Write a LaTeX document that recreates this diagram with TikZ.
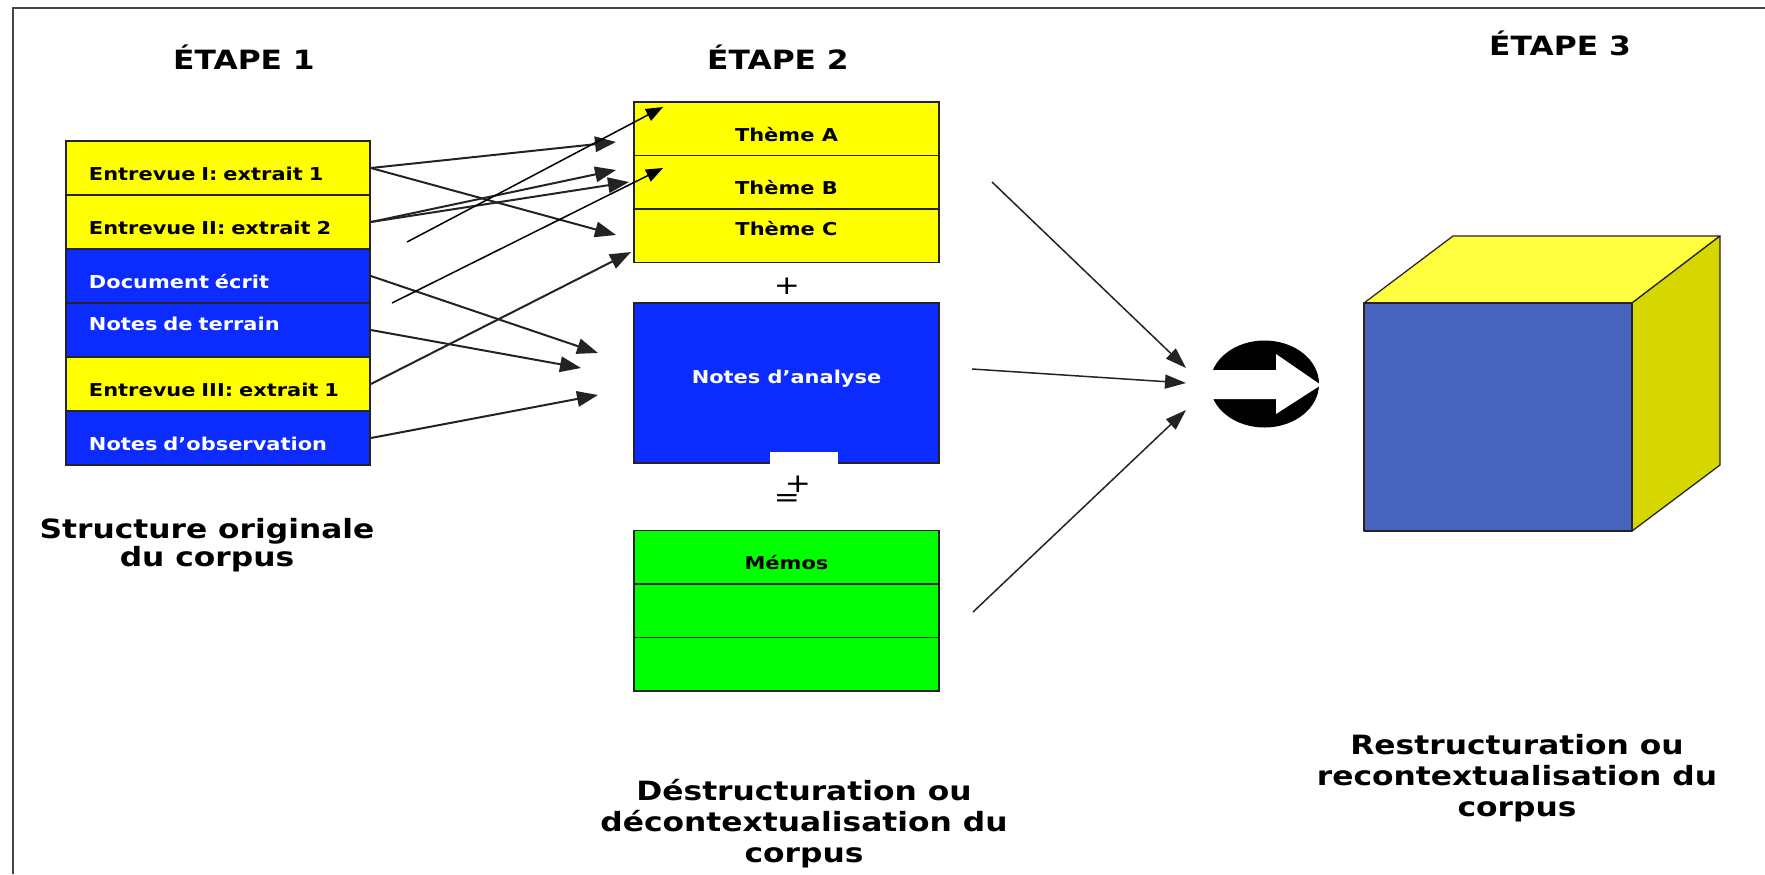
\documentclass[tikz,border=0pt]{standalone}
\usepackage{fontspec}
\setmainfont{DejaVu Sans}[FakeStretch=1.18]
\usepackage{tikz}
\usetikzlibrary{arrows.meta}
\usetikzlibrary{shapes.geometric}
\usepackage{xcolor}
\definecolor{ColYel}{RGB}{255,255,0}
\definecolor{ColBlu}{RGB}{12,43,255}
\definecolor{ColGre}{RGB}{0,255,0}
\definecolor{ColCubeF}{RGB}{72,99,190}
\definecolor{ColCubeT}{RGB}{255,255,64}
\definecolor{ColCubeR}{RGB}{214,214,0}
\definecolor{ColLine}{RGB}{35,35,35}
\definecolor{ColFrame}{RGB}{70,70,70}
\newcommand{\CellFont}{\fontsize{10.1pt}{12pt}\selectfont\bfseries}
\newcommand{\TitleFont}{\fontsize{15.1pt}{18pt}\selectfont\bfseries}
\tikzstyle{LeftCell}=[draw=ColLine,line width=0.35mm,minimum height=10.8mm,
text width=51.6mm,inner xsep=4.6mm,inner ysep=0pt,align=left,font=\CellFont]
\tikzstyle{MidCell}=[draw=ColLine,line width=0.35mm,minimum width=61mm,
minimum height=10.7mm,inner sep=0pt,font=\CellFont]
\tikzstyle{TextLow}=[text height=5mm,text depth=0pt]
\tikzstyle{TextMid}=[text height=0pt,text depth=0pt]
\tikzstyle{Title}=[font=\TitleFont,anchor=base,inner sep=0pt]
\tikzstyle{Sign}=[font=\fontsize{15pt}{15pt}\selectfont,inner sep=0pt]
\tikzstyle{LinkArrow}=[draw=ColLine,line width=0.4mm,-{Triangle[length=4.2mm,width=3.1mm]}]
\tikzstyle{FreeArrow}=[black,line width=0.3mm,-{Triangle[length=3.4mm,width=2.6mm]}]
\tikzstyle{JoinArrow}=[ColLine,line width=0.3mm,-{Triangle[length=4.2mm,width=2.8mm]}]
\tikzstyle{CubeFace}=[draw=ColLine,line width=0.25mm,line join=round]

\begin{document}
\begin{tikzpicture}[x=0.2mm,y=-0.2mm]
        \useasboundingbox (0,0) rectangle (1765,874);
        \draw[ColFrame,line width=0.45mm] (13,874) -- (13,8) -- (1765,8);
        % titles
        \node[Title](t1)at(244,69){ÉTAPE 1};
        \node[Title](t2)at(778,69){ÉTAPE 2};
        \node[Title](t3)at(1560,55){ÉTAPE 3};
        % etape 1
        \node[LeftCell,TextLow,fill=ColYel](e1)at(218,168){Entrevue I: extrait 1};
        \node[LeftCell,TextLow,fill=ColYel](e2)at(218,222){Entrevue II: extrait 2};
        \node[LeftCell,TextLow,fill=ColBlu,text=white](d1)at(218,276){Document écrit};
        \node[LeftCell,TextMid,fill=ColBlu,text=white](n1)at(218,330){Notes de terrain};
        \node[LeftCell,TextLow,fill=ColYel](e3)at(218,384){Entrevue III: extrait 1};
        \node[LeftCell,TextLow,fill=ColBlu,text=white](n2)at(218,438){Notes d’observation};
        % etape 2
        \node[MidCell,TextLow,fill=ColYel](thA)at(786.5,128.75){Thème A};
        \node[MidCell,TextLow,fill=ColYel](thB)at(786.5,182.25){Thème B};
        \node[MidCell,TextMid,fill=ColYel](thC)at(786.5,235.75){Thème C};
        \node[Sign](p1)at(787,286){+};
        \node[MidCell,TextMid,fill=ColBlu,text=white,minimum height=32mm](an)at(786.5,383){Notes d’analyse};
        \fill[white](770,452)rectangle(838,466);
        \node[Sign](p2)at(798,484){+};
        \node[Sign](eq)at(787,501){=};
        \node[MidCell,TextLow,fill=ColGre](m1)at(786.5,557.25){Mémos};
        \node[MidCell,fill=ColGre](m2)at(786.5,610.75){};
        \node[MidCell,fill=ColGre](m3)at(786.5,664.25){};
        % arrow ends
        \coordinate(aA)at(616,142);
        \coordinate(aC)at(616,235);
        \coordinate(aB)at(616,170);
        \coordinate(aB2)at(629,182);
        \coordinate(aC2)at(631,252);
        \coordinate(aN1)at(598,353);
        \coordinate(aN2)at(581,368);
        \coordinate(aN3)at(598,395);
        \draw[LinkArrow](e1.east)--(aA);
        \draw[LinkArrow](e1.east)--(aC);
        \draw[LinkArrow](e2.east)--(aB);
        \draw[LinkArrow](e2.east)--(aB2);
        \draw[LinkArrow](d1.east)--(aN1);
        \draw[LinkArrow](n1.east)--(aN2);
        \draw[LinkArrow](e3.east)--(aC2);
        \draw[LinkArrow](n2.east)--(aN3);
        \coordinate(fs1)at(407,242);
        \coordinate(fs2)at(392,303);
        \coordinate(fe1)at(663,107);
        \coordinate(fe2)at(663,168);
        \draw[FreeArrow](fs1)--(fe1);
        \draw[FreeArrow](fs2)--(fe2);
        % etape 3
        \node[ellipse,fill=black,minimum width=21.8mm,minimum height=17.4mm,inner sep=0pt](circ)at(1264.5,384){};
        \fill[white](1205,370)--(1276,370)--(1276,354)--(1321,385)--(1276,414)--(1276,399)--(1205,399)--cycle;
        \coordinate(js1)at(992,182);
        \coordinate(js2)at(972,369);
        \coordinate(js3)at(973,612);
        \coordinate(je1)at(1186,368);
        \coordinate(je2)at(1186,383);
        \coordinate(je3)at(1186,410);
        \draw[JoinArrow](js1)--(je1);
        \draw[JoinArrow](js2)--(je2);
        \draw[JoinArrow](js3)--(je3);
        \filldraw[CubeFace,fill=ColCubeT](1364,303)--(1453,236)--(1720,236)--(1632,303)--cycle;
        \filldraw[CubeFace,fill=ColCubeR](1632,303)--(1720,236)--(1720,465)--(1632,531)--cycle;
        \filldraw[CubeFace,fill=ColCubeF](1364,303)rectangle(1632,531);
        % captions (base = last line)
        \node[Title,align=center,font=\fontsize{15.1pt}{15.4pt}\selectfont\bfseries](c1)at(207,566){Structure originale\\du corpus};
        \node[Title,align=center,font=\fontsize{15.1pt}{17.6pt}\selectfont\bfseries](c2)at(804,862){Déstructuration ou\\décontextualisation du\\corpus};
        \node[Title,align=center,font=\fontsize{15.1pt}{17.6pt}\selectfont\bfseries](c3)at(1517,816){Restructuration ou\\recontextualisation du\\corpus};
    \end{tikzpicture}
\end{document}
